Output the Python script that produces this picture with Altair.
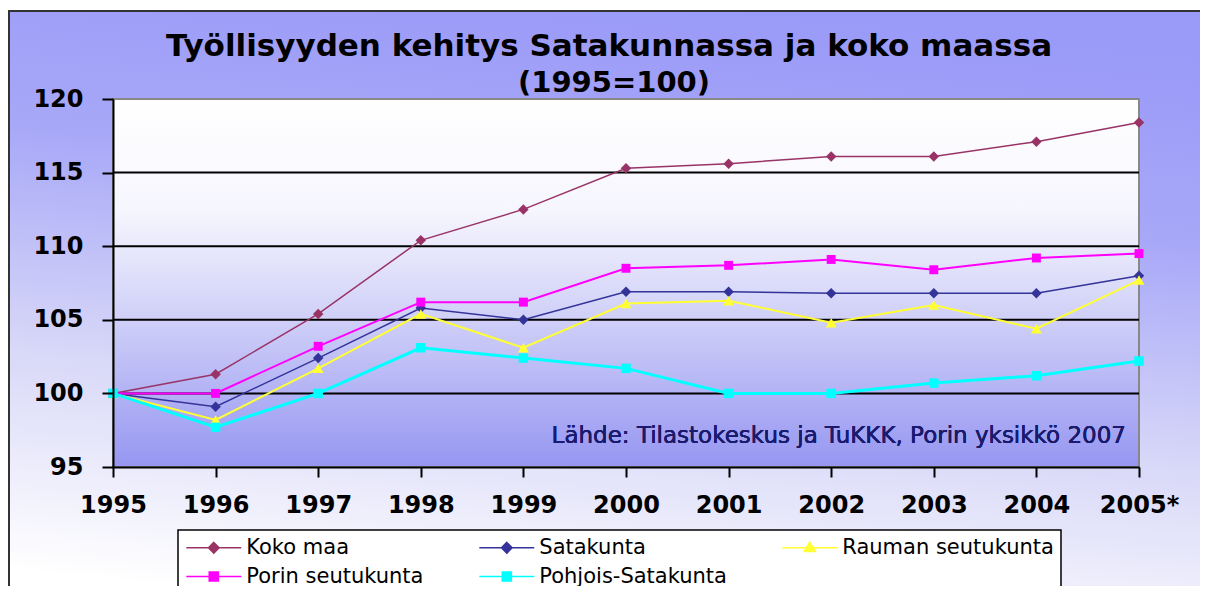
import altair as alt
import pandas as pd

years = ["1995", "1996", "1997", "1998", "1999", "2000", "2001", "2002", "2003", "2004", "2005*"]
series_names = ["Koko maa", "Satakunta", "Rauman seutukunta", "Porin seutukunta", "Pohjois-Satakunta"]
koko_maa = [100, 101.3, 105.4, 110.4, 112.5, 115.3, 115.6, 116.1, 116.1, 117.1, 118.4]
satakunta = [100, 99.1, 102.4, 105.8, 105.0, 106.9, 106.9, 106.8, 106.8, 106.8, 108.0]
rauma = [100, 98.2, 101.7, 105.4, 103.1, 106.1, 106.3, 104.8, 106.0, 104.4, 107.7]
pori = [100, 100.0, 103.2, 106.2, 106.2, 108.5, 108.7, 109.1, 108.4, 109.2, 109.5]
pohjois = [100, 97.7, 100.0, 103.1, 102.4, 101.7, 100.0, 100.0, 100.7, 101.2, 102.2]
grid_values = [100, 105, 110, 115]
y_ticks = [95, 100, 105, 110, 115, 120]
title_lines = ["Työllisyyden kehitys Satakunnassa ja koko maassa", "(1995=100)"]
source_text = "Lähde: Tilastokeskus ja TuKKK, Porin yksikkö 2007"

colors = ["#993366", "#333399", "#FFFF33", "#FF00FF", "#00FFFF"]
line_widths = [1.5, 1.5, 2, 2, 3]
point_shapes = ["diamond", "diamond", "triangle-up", "square", "square"]
point_sizes = [110, 110, 120, 80, 90]
legend_paths = [
    "M-3,0H3M0,-0.58L0.58,0L0,0.58L-0.58,0Z",
    "M-3,0H3M0,-0.58L0.58,0L0,0.58L-0.58,0Z",
    "M-3,0H3M0,-0.6L0.62,0.42H-0.62Z",
    "M-3,0H3M-0.5,-0.5H0.5V0.5H-0.5Z",
    "M-3,0H3M-0.5,-0.5H0.5V0.5H-0.5Z",
]

rows = []
for name, vals in zip(series_names, [koko_maa, satakunta, rauma, pori, pohjois]):
    for yr, v in zip(years, vals):
        rows.append({"year": yr, "value": v, "series": name})
df = pd.DataFrame(rows)
grid_df = pd.DataFrame({"g": grid_values})
title_df = pd.DataFrame({"line": title_lines, "ty": [0, 1]})

W, H = 1026, 368
xscale = alt.Scale(type="point", domain=years, padding=0)
yscale = alt.Scale(domain=[95, 120], nice=False, zero=False)

x_axis = alt.Axis(title=None, labelAngle=0, labelFont="DejaVu Sans", labelFontWeight="bold",
                  labelFontSize=24, labelColor="black", labelPadding=16, tickSize=10,
                  tickWidth=2, tickColor="black", domainColor="black", domainWidth=2,
                  grid=False, zindex=1)
y_axis = alt.Axis(title=None, values=y_ticks, labelFont="DejaVu Sans", labelFontWeight="bold",
                  labelFontSize=24, labelColor="black", labelPadding=19, tickSize=11,
                  tickWidth=2, tickColor="black", domainColor="black", domainWidth=2,
                  grid=False, zindex=1)
x_plain = alt.X("year:N", scale=xscale, axis=x_axis)
y_plain = alt.Y("value:Q", scale=yscale, axis=y_axis)

outer_grad = alt.LinearGradient(gradient="linear", x1=0.6, y1=0, x2=0.4, y2=1, stops=[
    alt.GradientStop(color="#9A9AF8", offset=0),
    alt.GradientStop(color="#A8A8F8", offset=0.3),
    alt.GradientStop(color="#D8D8F8", offset=0.65),
    alt.GradientStop(color="#FFFFFF", offset=1)])
plot_grad = alt.LinearGradient(gradient="linear", x1=0, y1=0, x2=0, y2=1, stops=[
    alt.GradientStop(color="#FFFFFF", offset=0),
    alt.GradientStop(color="#F6F6FE", offset=0.3),
    alt.GradientStop(color="#CFCFF8", offset=0.6),
    alt.GradientStop(color="#9696F2", offset=1)])

outer = alt.Chart(grid_df).mark_rect(fill=outer_grad, stroke="#333333", strokeWidth=2).encode(
    x=alt.value(-104), x2=alt.value(1100), y=alt.value(-88), y2=alt.value(520))

plot_bg = alt.Chart(grid_df).mark_rect(fill=plot_grad, stroke="#888888", strokeWidth=2).encode(
    x=alt.value(0), x2=alt.value(W), y=alt.value(0), y2=alt.value(H))

grid = alt.Chart(grid_df).mark_rule(color="black", strokeWidth=2).encode(
    y=alt.Y("g:Q", scale=yscale, axis=y_axis))

layers = []
for name, shp, sz, col, lw in zip(series_names, point_shapes, point_sizes, colors, line_widths):
    base = alt.Chart(df).transform_filter(alt.datum.series == name)
    layers.append(base.mark_line(color=col, strokeWidth=lw).encode(x=x_plain, y=y_plain))
    layers.append(base.mark_point(filled=True, opacity=1, shape=shp, size=sz, color=col).encode(
        x=x_plain, y=y_plain))

legend_layer = alt.Chart(df).mark_point(filled=True, opacity=0, strokeWidth=1.5).encode(
    x=x_plain, y=y_plain,
    fill=alt.Fill("series:N", scale=alt.Scale(domain=series_names, range=colors), legend=alt.Legend(title=None)),
    stroke=alt.Stroke("series:N", scale=alt.Scale(domain=series_names, range=colors), legend=alt.Legend(title=None)),
    shape=alt.Shape("series:N", scale=alt.Scale(domain=series_names, range=legend_paths), legend=alt.Legend(title=None)),
)

source = alt.Chart(grid_df).mark_text(font="DejaVu Sans", fontSize=23, color="#1a1a6e", align="right",
                                      baseline="alphabetic").encode(
    x=alt.value(W - 13), y=alt.value(344), text=alt.value(source_text))

title1 = alt.Chart(title_df).transform_filter(alt.datum.ty == 0).mark_text(
    font="DejaVu Sans", fontWeight="bold", fontSize=31, color="black", align="center",
    baseline="alphabetic").encode(x=alt.value(496), y=alt.value(-43), text="line:N")
title2 = alt.Chart(title_df).transform_filter(alt.datum.ty == 1).mark_text(
    font="DejaVu Sans", fontWeight="bold", fontSize=29, color="black", align="center",
    baseline="alphabetic").encode(x=alt.value(501), y=alt.value(-7), text="line:N")

chart = alt.layer(outer, plot_bg, grid, *layers, legend_layer, source, title1, title2).properties(
    width=W, height=H,
    padding={"left": 105, "top": 91, "right": 61, "bottom": 119},
    autosize=alt.AutoSizeParams(type="none"),
).configure_view(stroke=None).configure_legend(
    orient="none", legendX=65, legendY=431, columns=3, direction="horizontal", gridAlign="each",
    columnPadding=52, rowPadding=7,
    padding=7, fillColor="white", strokeColor="black", strokeWidth=1.5,
    symbolSize=336, symbolOffset=18.3, symbolStrokeWidth=1.5, symbolOpacity=1, labelOffset=22,
    labelLimit=500, labelFont="DejaVu Sans", labelFontSize=21, labelColor="black",
)

chart.save("out.html", embed_options={"renderer": "svg", "actions": False})
